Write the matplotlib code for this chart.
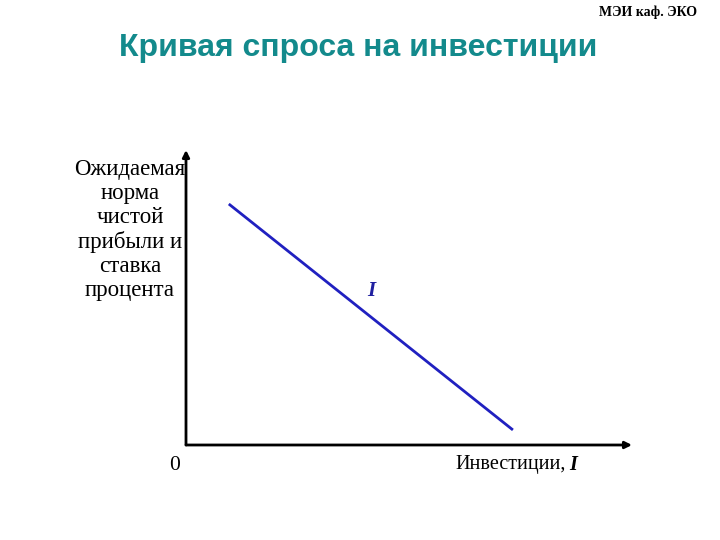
import matplotlib
matplotlib.use("Agg")
import matplotlib.pyplot as plt

# Data
curve_x = [9.6, 73.3]
curve_y = [81.7, 5.1]
title = "Кривая спроса на инвестиции"
corner = "МЭИ каф. ЭКО"
ylabel = "Ожидаемая\nнорма\nчистой\nприбыли и\nставка\nпроцента"
xlabel_main = "Инвестиции, "
curve_label = "I"
origin_label = "0"

W, H = 720, 540
fig = plt.figure(figsize=(7.2, 5.4), dpi=100)
fig.patch.set_facecolor("white")

def fx(px):
    return px / W

def fy(py):
    return 1 - py / H

ax = fig.add_axes([fx(186), fy(445), (632 - 186) / W, (445 - 150) / H])
ax.set_xlim(0, 100)
ax.set_ylim(0, 100)
ax.axis("off")

# axes arrows
ax.annotate("", xy=(100, 0), xytext=(0, 0),
            arrowprops=dict(arrowstyle="-|>", color="black", lw=2,
                            mutation_scale=10, shrinkA=0, shrinkB=0),
            annotation_clip=False)
ax.annotate("", xy=(0, 100), xytext=(0, 0),
            arrowprops=dict(arrowstyle="-|>", color="black", lw=2,
                            mutation_scale=10, shrinkA=0, shrinkB=0),
            annotation_clip=False)

# demand curve
ax.plot(curve_x, curve_y, color="#2020c0", lw=2, solid_capstyle="butt")

serif = ["Liberation Serif", "DejaVu Serif"]
sans = ["Liberation Sans", "DejaVu Sans"]

fig.text(fx(697), fy(12), corner, ha="right", va="center", fontsize=10,
         fontweight="bold", family=serif)
fig.text(fx(358), fy(48), title, ha="center", va="center", fontsize=23,
         fontweight="bold", color="#138a8c", family=sans)
fig.text(fx(130), fy(230), ylabel, ha="center", va="center", fontsize=16.5,
         family=serif, linespacing=1.19)
fig.text(fx(175), fy(465), origin_label, ha="center", va="center",
         fontsize=15.5, family=serif)
t = fig.text(fx(455), fy(465), xlabel_main.rstrip(), ha="left", va="center",
             fontsize=14.5, family=serif)
fig.canvas.draw()
bb = t.get_window_extent(renderer=fig.canvas.get_renderer())
fig.text(bb.x1 / W + 4 / W, fy(465), curve_label, ha="left", va="center",
         fontsize=14.5, family=serif, fontweight="bold", style="italic")
fig.text(fx(371), fy(291), curve_label, ha="center", va="center", fontsize=15,
         family=serif, fontweight="bold", style="italic", color="#1f1fa0")

fig.savefig("out.png", dpi=100, facecolor="white")
